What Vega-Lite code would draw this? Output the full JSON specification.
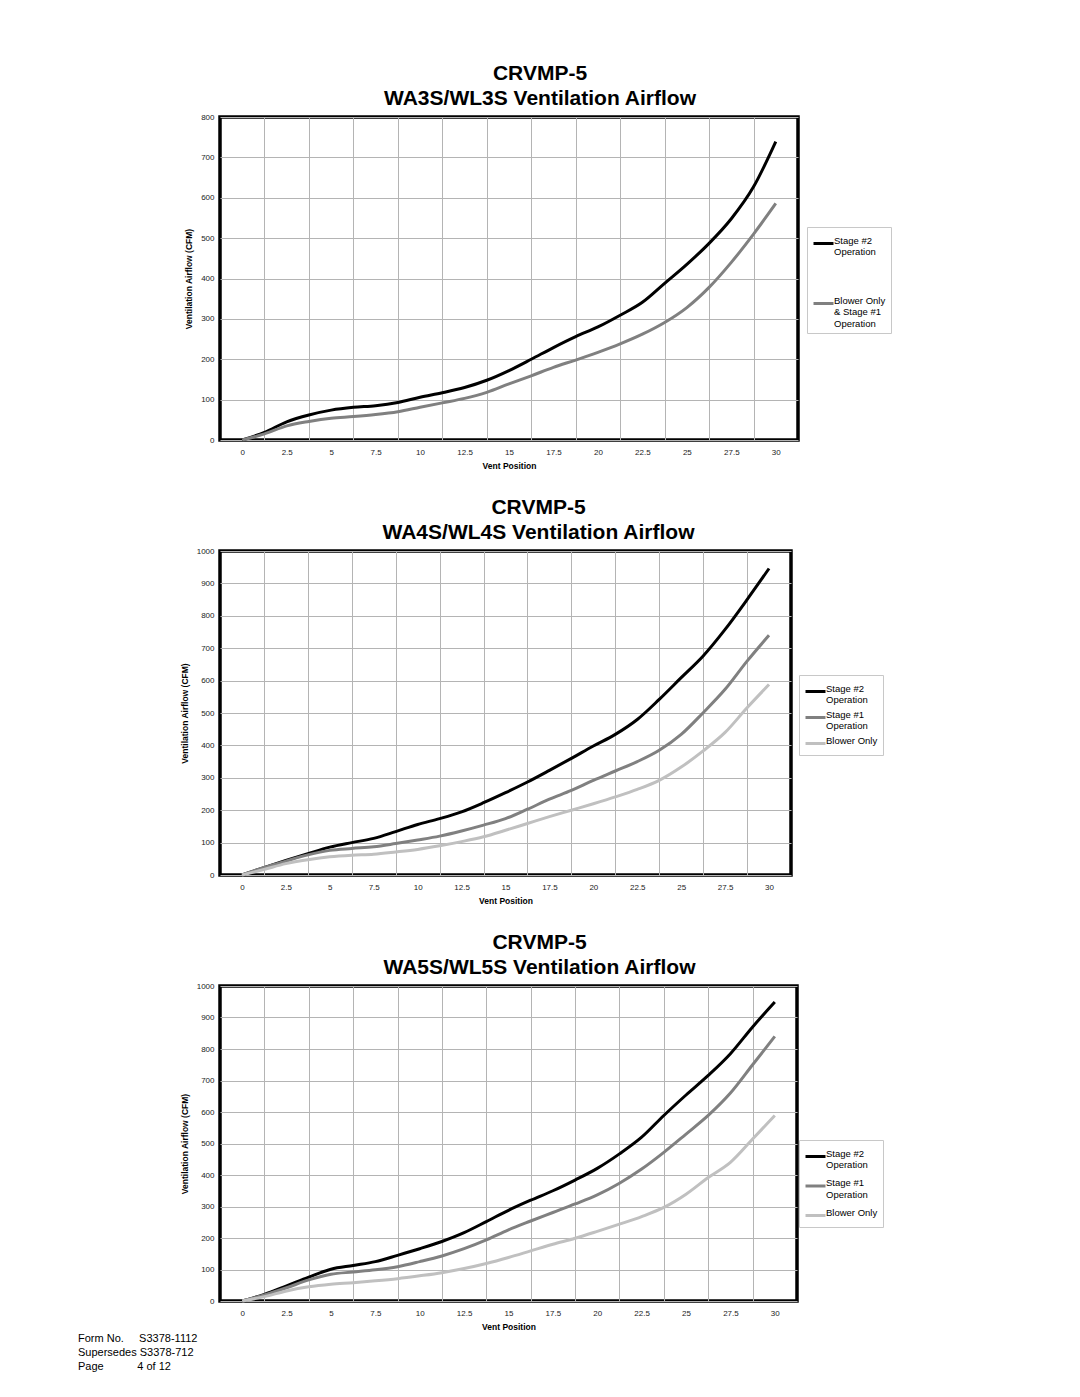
{
  "$schema": "https://vega.github.io/schema/vega-lite/v6.json",
  "padding": {"left": 78, "top": 61, "right": 5, "bottom": 5},
  "config": {
    "font": "Liberation Sans",
    "view": {"stroke": "#000000", "strokeWidth": 3.5},
    "axis": {"labelFont": "Liberation Sans", "labelFontSize": 8, "labelColor": "#222222", "titleFont": "Liberation Sans", "titleFontSize": 8.5, "titleFontWeight": "bold", "titleColor": "#000000", "domain": false, "gridColor": "#b4b4b4", "gridWidth": 1, "ticks": false, "labelFlush": false, "labelOverlap": false, "format": "d"},
    "title": {"font": "Liberation Sans", "fontSize": 21, "fontWeight": "bold", "color": "#000000", "lineHeight": 25, "anchor": "middle", "frame": "group", "offset": 4},
    "legend": {"labelFont": "Liberation Sans", "labelFontSize": 9.5, "labelColor": "#000000", "symbolType": "stroke", "symbolStrokeWidth": 3, "symbolSize": 400, "strokeColor": "#c8c8c8", "fillColor": "#ffffff", "padding": 5, "labelOffset": -1, "labelLimit": 200, "labelBaseline": "alphabetic", "orient": "none"}
  },
  "resolve": {"scale": {"color": "independent"}, "legend": {"color": "independent"}},
  "datasets": {
    "c1": [
      {"pos": 0, "cfm": 0, "series": "Stage #2 Operation"}, {"pos": 1.25, "cfm": 19, "series": "Stage #2 Operation"}, {"pos": 2.5, "cfm": 45, "series": "Stage #2 Operation"}, {"pos": 3.75, "cfm": 62, "series": "Stage #2 Operation"}, {"pos": 5, "cfm": 74, "series": "Stage #2 Operation"}, {"pos": 6.25, "cfm": 81, "series": "Stage #2 Operation"}, {"pos": 7.5, "cfm": 85, "series": "Stage #2 Operation"}, {"pos": 8.75, "cfm": 93, "series": "Stage #2 Operation"}, {"pos": 10, "cfm": 106, "series": "Stage #2 Operation"}, {"pos": 11.25, "cfm": 117, "series": "Stage #2 Operation"}, {"pos": 12.5, "cfm": 130, "series": "Stage #2 Operation"}, {"pos": 13.75, "cfm": 148, "series": "Stage #2 Operation"}, {"pos": 15, "cfm": 172, "series": "Stage #2 Operation"}, {"pos": 16.25, "cfm": 200, "series": "Stage #2 Operation"}, {"pos": 17.5, "cfm": 229, "series": "Stage #2 Operation"}, {"pos": 18.75, "cfm": 256, "series": "Stage #2 Operation"}, {"pos": 20, "cfm": 280, "series": "Stage #2 Operation"}, {"pos": 21.25, "cfm": 309, "series": "Stage #2 Operation"}, {"pos": 22.5, "cfm": 341, "series": "Stage #2 Operation"}, {"pos": 23.75, "cfm": 388, "series": "Stage #2 Operation"}, {"pos": 25, "cfm": 435, "series": "Stage #2 Operation"}, {"pos": 26.25, "cfm": 487, "series": "Stage #2 Operation"}, {"pos": 27.5, "cfm": 548, "series": "Stage #2 Operation"}, {"pos": 28.75, "cfm": 627, "series": "Stage #2 Operation"}, {"pos": 30, "cfm": 739, "series": "Stage #2 Operation"},
      {"pos": 0, "cfm": 0, "series": "Blower Only & Stage #1 Operation"}, {"pos": 1.25, "cfm": 15, "series": "Blower Only & Stage #1 Operation"}, {"pos": 2.5, "cfm": 35, "series": "Blower Only & Stage #1 Operation"}, {"pos": 3.75, "cfm": 46, "series": "Blower Only & Stage #1 Operation"}, {"pos": 5, "cfm": 54, "series": "Blower Only & Stage #1 Operation"}, {"pos": 6.25, "cfm": 58, "series": "Blower Only & Stage #1 Operation"}, {"pos": 7.5, "cfm": 63, "series": "Blower Only & Stage #1 Operation"}, {"pos": 8.75, "cfm": 70, "series": "Blower Only & Stage #1 Operation"}, {"pos": 10, "cfm": 81, "series": "Blower Only & Stage #1 Operation"}, {"pos": 11.25, "cfm": 92, "series": "Blower Only & Stage #1 Operation"}, {"pos": 12.5, "cfm": 103, "series": "Blower Only & Stage #1 Operation"}, {"pos": 13.75, "cfm": 118, "series": "Blower Only & Stage #1 Operation"}, {"pos": 15, "cfm": 139, "series": "Blower Only & Stage #1 Operation"}, {"pos": 16.25, "cfm": 159, "series": "Blower Only & Stage #1 Operation"}, {"pos": 17.5, "cfm": 180, "series": "Blower Only & Stage #1 Operation"}, {"pos": 18.75, "cfm": 198, "series": "Blower Only & Stage #1 Operation"}, {"pos": 20, "cfm": 217, "series": "Blower Only & Stage #1 Operation"}, {"pos": 21.25, "cfm": 238, "series": "Blower Only & Stage #1 Operation"}, {"pos": 22.5, "cfm": 262, "series": "Blower Only & Stage #1 Operation"}, {"pos": 23.75, "cfm": 291, "series": "Blower Only & Stage #1 Operation"}, {"pos": 25, "cfm": 328, "series": "Blower Only & Stage #1 Operation"}, {"pos": 26.25, "cfm": 378, "series": "Blower Only & Stage #1 Operation"}, {"pos": 27.5, "cfm": 440, "series": "Blower Only & Stage #1 Operation"}, {"pos": 28.75, "cfm": 510, "series": "Blower Only & Stage #1 Operation"}, {"pos": 30, "cfm": 586, "series": "Blower Only & Stage #1 Operation"}
    ],
    "c2": [
      {"pos": 0, "cfm": 0, "series": "Stage #2 Operation"}, {"pos": 1.25, "cfm": 23, "series": "Stage #2 Operation"}, {"pos": 2.5, "cfm": 45, "series": "Stage #2 Operation"}, {"pos": 3.75, "cfm": 66, "series": "Stage #2 Operation"}, {"pos": 5, "cfm": 86, "series": "Stage #2 Operation"}, {"pos": 6.25, "cfm": 100, "series": "Stage #2 Operation"}, {"pos": 7.5, "cfm": 113, "series": "Stage #2 Operation"}, {"pos": 8.75, "cfm": 134, "series": "Stage #2 Operation"}, {"pos": 10, "cfm": 156, "series": "Stage #2 Operation"}, {"pos": 11.25, "cfm": 174, "series": "Stage #2 Operation"}, {"pos": 12.5, "cfm": 195, "series": "Stage #2 Operation"}, {"pos": 13.75, "cfm": 223, "series": "Stage #2 Operation"}, {"pos": 15, "cfm": 254, "series": "Stage #2 Operation"}, {"pos": 16.25, "cfm": 287, "series": "Stage #2 Operation"}, {"pos": 17.5, "cfm": 323, "series": "Stage #2 Operation"}, {"pos": 18.75, "cfm": 360, "series": "Stage #2 Operation"}, {"pos": 20, "cfm": 398, "series": "Stage #2 Operation"}, {"pos": 21.25, "cfm": 434, "series": "Stage #2 Operation"}, {"pos": 22.5, "cfm": 480, "series": "Stage #2 Operation"}, {"pos": 23.75, "cfm": 542, "series": "Stage #2 Operation"}, {"pos": 25, "cfm": 609, "series": "Stage #2 Operation"}, {"pos": 26.25, "cfm": 676, "series": "Stage #2 Operation"}, {"pos": 27.5, "cfm": 758, "series": "Stage #2 Operation"}, {"pos": 28.75, "cfm": 850, "series": "Stage #2 Operation"}, {"pos": 30, "cfm": 946, "series": "Stage #2 Operation"},
      {"pos": 0, "cfm": 0, "series": "Stage #1 Operation"}, {"pos": 1.25, "cfm": 23, "series": "Stage #1 Operation"}, {"pos": 2.5, "cfm": 43, "series": "Stage #1 Operation"}, {"pos": 3.75, "cfm": 62, "series": "Stage #1 Operation"}, {"pos": 5, "cfm": 76, "series": "Stage #1 Operation"}, {"pos": 6.25, "cfm": 82, "series": "Stage #1 Operation"}, {"pos": 7.5, "cfm": 87, "series": "Stage #1 Operation"}, {"pos": 8.75, "cfm": 97, "series": "Stage #1 Operation"}, {"pos": 10, "cfm": 108, "series": "Stage #1 Operation"}, {"pos": 11.25, "cfm": 120, "series": "Stage #1 Operation"}, {"pos": 12.5, "cfm": 136, "series": "Stage #1 Operation"}, {"pos": 13.75, "cfm": 154, "series": "Stage #1 Operation"}, {"pos": 15, "cfm": 174, "series": "Stage #1 Operation"}, {"pos": 16.25, "cfm": 203, "series": "Stage #1 Operation"}, {"pos": 17.5, "cfm": 234, "series": "Stage #1 Operation"}, {"pos": 18.75, "cfm": 261, "series": "Stage #1 Operation"}, {"pos": 20, "cfm": 292, "series": "Stage #1 Operation"}, {"pos": 21.25, "cfm": 321, "series": "Stage #1 Operation"}, {"pos": 22.5, "cfm": 350, "series": "Stage #1 Operation"}, {"pos": 23.75, "cfm": 385, "series": "Stage #1 Operation"}, {"pos": 25, "cfm": 434, "series": "Stage #1 Operation"}, {"pos": 26.25, "cfm": 501, "series": "Stage #1 Operation"}, {"pos": 27.5, "cfm": 573, "series": "Stage #1 Operation"}, {"pos": 28.75, "cfm": 660, "series": "Stage #1 Operation"}, {"pos": 30, "cfm": 740, "series": "Stage #1 Operation"},
      {"pos": 0, "cfm": 0, "series": "Blower Only"}, {"pos": 1.25, "cfm": 17, "series": "Blower Only"}, {"pos": 2.5, "cfm": 35, "series": "Blower Only"}, {"pos": 3.75, "cfm": 47, "series": "Blower Only"}, {"pos": 5, "cfm": 56, "series": "Blower Only"}, {"pos": 6.25, "cfm": 61, "series": "Blower Only"}, {"pos": 7.5, "cfm": 64, "series": "Blower Only"}, {"pos": 8.75, "cfm": 71, "series": "Blower Only"}, {"pos": 10, "cfm": 79, "series": "Blower Only"}, {"pos": 11.25, "cfm": 90, "series": "Blower Only"}, {"pos": 12.5, "cfm": 103, "series": "Blower Only"}, {"pos": 13.75, "cfm": 118, "series": "Blower Only"}, {"pos": 15, "cfm": 138, "series": "Blower Only"}, {"pos": 16.25, "cfm": 159, "series": "Blower Only"}, {"pos": 17.5, "cfm": 180, "series": "Blower Only"}, {"pos": 18.75, "cfm": 200, "series": "Blower Only"}, {"pos": 20, "cfm": 220, "series": "Blower Only"}, {"pos": 21.25, "cfm": 241, "series": "Blower Only"}, {"pos": 22.5, "cfm": 264, "series": "Blower Only"}, {"pos": 23.75, "cfm": 292, "series": "Blower Only"}, {"pos": 25, "cfm": 333, "series": "Blower Only"}, {"pos": 26.25, "cfm": 383, "series": "Blower Only"}, {"pos": 27.5, "cfm": 440, "series": "Blower Only"}, {"pos": 28.75, "cfm": 516, "series": "Blower Only"}, {"pos": 30, "cfm": 588, "series": "Blower Only"}
    ],
    "c3": [
      {"pos": 0, "cfm": 0, "series": "Stage #2 Operation"}, {"pos": 1.25, "cfm": 21, "series": "Stage #2 Operation"}, {"pos": 2.5, "cfm": 48, "series": "Stage #2 Operation"}, {"pos": 3.75, "cfm": 76, "series": "Stage #2 Operation"}, {"pos": 5, "cfm": 101, "series": "Stage #2 Operation"}, {"pos": 6.25, "cfm": 113, "series": "Stage #2 Operation"}, {"pos": 7.5, "cfm": 125, "series": "Stage #2 Operation"}, {"pos": 8.75, "cfm": 145, "series": "Stage #2 Operation"}, {"pos": 10, "cfm": 166, "series": "Stage #2 Operation"}, {"pos": 11.25, "cfm": 189, "series": "Stage #2 Operation"}, {"pos": 12.5, "cfm": 217, "series": "Stage #2 Operation"}, {"pos": 13.75, "cfm": 252, "series": "Stage #2 Operation"}, {"pos": 15, "cfm": 288, "series": "Stage #2 Operation"}, {"pos": 16.25, "cfm": 320, "series": "Stage #2 Operation"}, {"pos": 17.5, "cfm": 350, "series": "Stage #2 Operation"}, {"pos": 18.75, "cfm": 384, "series": "Stage #2 Operation"}, {"pos": 20, "cfm": 421, "series": "Stage #2 Operation"}, {"pos": 21.25, "cfm": 467, "series": "Stage #2 Operation"}, {"pos": 22.5, "cfm": 520, "series": "Stage #2 Operation"}, {"pos": 23.75, "cfm": 589, "series": "Stage #2 Operation"}, {"pos": 25, "cfm": 654, "series": "Stage #2 Operation"}, {"pos": 26.25, "cfm": 716, "series": "Stage #2 Operation"}, {"pos": 27.5, "cfm": 785, "series": "Stage #2 Operation"}, {"pos": 28.75, "cfm": 870, "series": "Stage #2 Operation"}, {"pos": 30, "cfm": 949, "series": "Stage #2 Operation"},
      {"pos": 0, "cfm": 0, "series": "Stage #1 Operation"}, {"pos": 1.25, "cfm": 19, "series": "Stage #1 Operation"}, {"pos": 2.5, "cfm": 42, "series": "Stage #1 Operation"}, {"pos": 3.75, "cfm": 67, "series": "Stage #1 Operation"}, {"pos": 5, "cfm": 85, "series": "Stage #1 Operation"}, {"pos": 6.25, "cfm": 92, "series": "Stage #1 Operation"}, {"pos": 7.5, "cfm": 99, "series": "Stage #1 Operation"}, {"pos": 8.75, "cfm": 109, "series": "Stage #1 Operation"}, {"pos": 10, "cfm": 125, "series": "Stage #1 Operation"}, {"pos": 11.25, "cfm": 143, "series": "Stage #1 Operation"}, {"pos": 12.5, "cfm": 166, "series": "Stage #1 Operation"}, {"pos": 13.75, "cfm": 194, "series": "Stage #1 Operation"}, {"pos": 15, "cfm": 226, "series": "Stage #1 Operation"}, {"pos": 16.25, "cfm": 254, "series": "Stage #1 Operation"}, {"pos": 17.5, "cfm": 281, "series": "Stage #1 Operation"}, {"pos": 18.75, "cfm": 308, "series": "Stage #1 Operation"}, {"pos": 20, "cfm": 337, "series": "Stage #1 Operation"}, {"pos": 21.25, "cfm": 374, "series": "Stage #1 Operation"}, {"pos": 22.5, "cfm": 419, "series": "Stage #1 Operation"}, {"pos": 23.75, "cfm": 472, "series": "Stage #1 Operation"}, {"pos": 25, "cfm": 530, "series": "Stage #1 Operation"}, {"pos": 26.25, "cfm": 589, "series": "Stage #1 Operation"}, {"pos": 27.5, "cfm": 660, "series": "Stage #1 Operation"}, {"pos": 28.75, "cfm": 750, "series": "Stage #1 Operation"}, {"pos": 30, "cfm": 840, "series": "Stage #1 Operation"},
      {"pos": 0, "cfm": 0, "series": "Blower Only"}, {"pos": 1.25, "cfm": 14, "series": "Blower Only"}, {"pos": 2.5, "cfm": 32, "series": "Blower Only"}, {"pos": 3.75, "cfm": 45, "series": "Blower Only"}, {"pos": 5, "cfm": 53, "series": "Blower Only"}, {"pos": 6.25, "cfm": 58, "series": "Blower Only"}, {"pos": 7.5, "cfm": 64, "series": "Blower Only"}, {"pos": 8.75, "cfm": 71, "series": "Blower Only"}, {"pos": 10, "cfm": 80, "series": "Blower Only"}, {"pos": 11.25, "cfm": 90, "series": "Blower Only"}, {"pos": 12.5, "cfm": 103, "series": "Blower Only"}, {"pos": 13.75, "cfm": 119, "series": "Blower Only"}, {"pos": 15, "cfm": 138, "series": "Blower Only"}, {"pos": 16.25, "cfm": 159, "series": "Blower Only"}, {"pos": 17.5, "cfm": 180, "series": "Blower Only"}, {"pos": 18.75, "cfm": 199, "series": "Blower Only"}, {"pos": 20, "cfm": 221, "series": "Blower Only"}, {"pos": 21.25, "cfm": 244, "series": "Blower Only"}, {"pos": 22.5, "cfm": 268, "series": "Blower Only"}, {"pos": 23.75, "cfm": 297, "series": "Blower Only"}, {"pos": 25, "cfm": 339, "series": "Blower Only"}, {"pos": 26.25, "cfm": 392, "series": "Blower Only"}, {"pos": 27.5, "cfm": 440, "series": "Blower Only"}, {"pos": 28.75, "cfm": 514, "series": "Blower Only"}, {"pos": 30, "cfm": 589, "series": "Blower Only"}
    ]
  },
  "bounds": "flush",
  "spacing": 111,
  "title": {
    "text": ["Form No.\u00a0\u00a0\u00a0\u00a0\u00a0S3378-1112", "Supersedes\u00a0S3378-712", "Page\u00a0\u00a0\u00a0\u00a0\u00a0\u00a0\u00a0\u00a0\u00a0\u00a0\u00a04 of 12"],
    "orient": "bottom", "anchor": "start", "frame": "group", "dx": -142, "offset": 1,
    "fontSize": 11, "fontWeight": "normal", "lineHeight": 14, "color": "#000000"
  },
  "vconcat": [
    {
      "width": 578, "height": 323,
      "title": {"text": ["CRVMP-5", "WA3S/WL3S Ventilation Airflow"], "dx": 31},
      "data": {"name": "c1"},
      "mark": {"type": "line", "interpolate": "monotone", "strokeWidth": 3},
      "encoding": {
        "x": {"field": "pos", "type": "quantitative", "scale": {"domain": [-1.25, 31.25], "nice": false, "zero": false},
          "axis": {"title": "Vent Position", "values": [0, 1.25, 2.5, 3.75, 5, 6.25, 7.5, 8.75, 10, 11.25, 12.5, 13.75, 15, 16.25, 17.5, 18.75, 20, 21.25, 22.5, 23.75, 25, 26.25, 27.5, 28.75, 30],
            "labelExpr": "datum.value % 2.5 === 0 ? '' + datum.value : ''",
            "grid": true, "gridOpacity": {"condition": {"test": "datum.value % 2.5 !== 0", "value": 1}, "value": 0},
            "labelPadding": 8, "titlePadding": 5}},
        "y": {"field": "cfm", "type": "quantitative", "scale": {"domain": [0, 800], "nice": false},
          "axis": {"title": "Ventilation Airflow (CFM)", "values": [0, 100, 200, 300, 400, 500, 600, 700, 800], "grid": true, "labelPadding": 6, "titlePadding": 7}},
        "color": {"field": "series", "type": "nominal",
          "scale": {"domain": ["Stage #2 Operation", "Blower Only & Stage #1 Operation"], "range": ["#000000", "#808080"]},
          "legend": {"title": null, "legendX": 587, "legendY": 110, "rowPadding": 35,
            "labelExpr": "datum.label == 'Stage #2 Operation' ? ['Stage #2', 'Operation'] : ['Blower Only', '& Stage #1', 'Operation']"}}
      }
    },
    {
      "width": 571, "height": 324,
      "title": {"text": ["CRVMP-5", "WA4S/WL4S Ventilation Airflow"], "dx": 33},
      "data": {"name": "c2"},
      "mark": {"type": "line", "interpolate": "monotone", "strokeWidth": 3},
      "encoding": {
        "x": {"field": "pos", "type": "quantitative", "scale": {"domain": [-1.25, 31.25], "nice": false, "zero": false},
          "axis": {"title": "Vent Position", "values": [0, 1.25, 2.5, 3.75, 5, 6.25, 7.5, 8.75, 10, 11.25, 12.5, 13.75, 15, 16.25, 17.5, 18.75, 20, 21.25, 22.5, 23.75, 25, 26.25, 27.5, 28.75, 30],
            "labelExpr": "datum.value % 2.5 === 0 ? '' + datum.value : ''",
            "grid": true, "gridOpacity": {"condition": {"test": "datum.value % 2.5 !== 0", "value": 1}, "value": 0},
            "labelPadding": 8, "titlePadding": 5}},
        "y": {"field": "cfm", "type": "quantitative", "scale": {"domain": [0, 1000], "nice": false},
          "axis": {"title": "Ventilation Airflow (CFM)", "values": [0, 100, 200, 300, 400, 500, 600, 700, 800, 900, 1000], "grid": true, "labelPadding": 6, "titlePadding": 7}},
        "color": {"field": "series", "type": "nominal",
          "scale": {"domain": ["Stage #2 Operation", "Stage #1 Operation", "Blower Only"], "range": ["#000000", "#808080", "#c0c0c0"]},
          "legend": {"title": null, "legendX": 579, "legendY": 124, "rowPadding": 1,
            "labelExpr": "datum.label == 'Blower Only' ? 'Blower Only' : [slice(datum.label, 0, 8), 'Operation']"}}
      }
    },
    {
      "width": 577, "height": 315,
      "title": {"text": ["CRVMP-5", "WA5S/WL5S Ventilation Airflow"], "dx": 31},
      "data": {"name": "c3"},
      "mark": {"type": "line", "interpolate": "monotone", "strokeWidth": 3},
      "encoding": {
        "x": {"field": "pos", "type": "quantitative", "scale": {"domain": [-1.25, 31.25], "nice": false, "zero": false},
          "axis": {"title": "Vent Position", "values": [0, 1.25, 2.5, 3.75, 5, 6.25, 7.5, 8.75, 10, 11.25, 12.5, 13.75, 15, 16.25, 17.5, 18.75, 20, 21.25, 22.5, 23.75, 25, 26.25, 27.5, 28.75, 30],
            "labelExpr": "datum.value % 2.5 === 0 ? '' + datum.value : ''",
            "grid": true, "gridOpacity": {"condition": {"test": "datum.value % 2.5 !== 0", "value": 1}, "value": 0},
            "labelPadding": 8, "titlePadding": 5}},
        "y": {"field": "cfm", "type": "quantitative", "scale": {"domain": [0, 1000], "nice": false},
          "axis": {"title": "Ventilation Airflow (CFM)", "values": [0, 100, 200, 300, 400, 500, 600, 700, 800, 900, 1000], "grid": true, "labelPadding": 6, "titlePadding": 7}},
        "color": {"field": "series", "type": "nominal",
          "scale": {"domain": ["Stage #2 Operation", "Stage #1 Operation", "Blower Only"], "range": ["#000000", "#808080", "#c0c0c0"]},
          "legend": {"title": null, "legendX": 579, "legendY": 154, "rowPadding": 4.5,
            "labelExpr": "datum.label == 'Blower Only' ? 'Blower Only' : [slice(datum.label, 0, 8), 'Operation']"}}
      }
    }
  ]
}
